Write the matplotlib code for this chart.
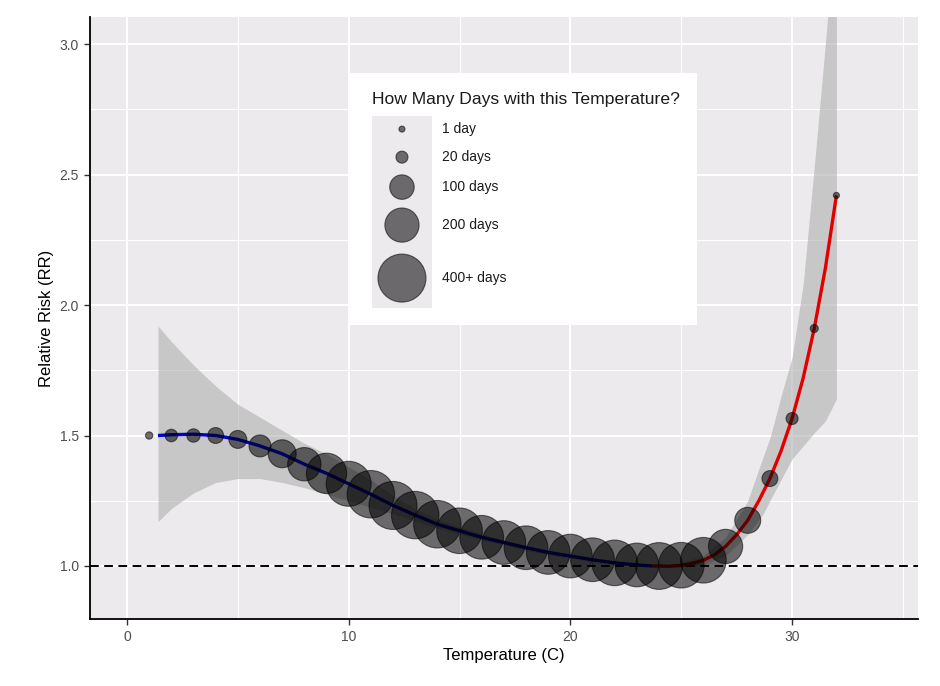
import matplotlib
matplotlib.use("Agg")
from matplotlib import pyplot as plt
from matplotlib.patches import Rectangle
import numpy as np

plt.rcParams['font.family'] = ['Liberation Sans', 'DejaVu Sans']

# points: temperature, relative risk, number of days
temp = [1, 2, 3, 4, 5, 6, 7, 8, 9, 10, 11, 12, 13, 14, 15, 16,
        17, 18, 19, 20, 21, 22, 23, 24, 25, 26, 27, 28, 29, 30, 31, 32]
rr = [1.50, 1.50, 1.50, 1.50, 1.485, 1.46, 1.43, 1.39, 1.355, 1.315, 1.275, 1.232,
      1.195, 1.16, 1.135, 1.11, 1.09, 1.07, 1.052, 1.038, 1.024, 1.012, 1.004,
      1.0, 1.003, 1.022, 1.075, 1.175, 1.335, 1.565, 1.91, 2.42]
days = [4, 22, 26, 39, 51, 79, 132, 190, 280, 350, 390, 433, 390, 390, 360, 330,
        330, 330, 330, 330, 330, 360, 330, 380, 360, 360, 200, 113, 39, 20, 6, 1]

# fitted curve, cold side (blue) and hot side (red)
cold_x = [1.4, 2, 3, 4, 5, 6, 7, 8, 9, 10, 11, 12, 13, 14, 15, 16, 17, 18, 19,
          20, 21, 22, 23, 23.7]
cold_y = [1.50, 1.503, 1.505, 1.50, 1.485, 1.46, 1.43, 1.39, 1.355, 1.315, 1.275,
          1.232, 1.195, 1.16, 1.135, 1.11, 1.09, 1.07, 1.052, 1.038, 1.024,
          1.012, 1.004, 1.0]
hot_x = [23.7, 24, 24.5, 25, 25.5, 26, 26.5, 27, 27.5, 28, 28.5, 29, 29.5, 30,
         30.5, 31, 31.5, 32]
hot_y = [1.0, 1.0, 0.999, 1.003, 1.01, 1.022, 1.043, 1.075, 1.12, 1.175, 1.25,
         1.335, 1.44, 1.565, 1.72, 1.91, 2.14, 2.42]

# confidence band
band_x = [1.4, 2, 3, 4, 5, 6, 7, 8, 9, 10, 11, 12, 13, 14, 15, 16, 17, 18, 19,
          20, 21, 22, 23, 24, 25, 26, 27, 28, 28.7, 29, 29.5, 30, 30.5, 31, 31.5, 32]
band_lo = [1.17, 1.22, 1.28, 1.32, 1.335, 1.335, 1.32, 1.30, 1.275, 1.25, 1.225,
           1.20, 1.172, 1.145, 1.122, 1.10, 1.08, 1.06, 1.043, 1.03, 1.017, 1.007,
           1.0, 0.997, 0.995, 1.005, 1.04, 1.12, 1.20, 1.25, 1.33, 1.41, 1.46,
           1.51, 1.555, 1.64]
band_hi = [1.92, 1.86, 1.77, 1.69, 1.62, 1.57, 1.52, 1.47, 1.43, 1.38, 1.33,
           1.27, 1.22, 1.18, 1.15, 1.124, 1.10, 1.08, 1.061, 1.046, 1.031, 1.017,
           1.008, 1.003, 1.012, 1.04, 1.11, 1.25, 1.42, 1.49, 1.65, 1.80, 2.08,
           2.53, 3.0, 3.5]

legend_days = [1, 20, 100, 200, 400]
legend_labels = ['1 day', '20 days', '100 days', '200 days', '400+ days']


def size_of(d):
    return 16 + 2.95 * np.minimum(np.asarray(d, dtype=float), 400)


fig = plt.figure(figsize=(9.4, 6.86), dpi=100)
ax = fig.add_axes([0.0957, 0.0977, 0.8809, 0.8773])
ax.set_facecolor('#edeaed')

ax.fill_between(band_x, band_lo, band_hi, color='#b0b0b0', alpha=0.6,
                linewidth=0, zorder=2)
ax.axhline(1.0, color='black', linestyle=(0, (4.5, 2.8)), linewidth=1.4, zorder=3)
ax.plot(cold_x, cold_y, color='#0000d0', linewidth=2.4, zorder=4,
        solid_capstyle='butt')
ax.plot(hot_x, hot_y, color='#e00000', linewidth=2.4, zorder=4,
        solid_capstyle='butt')
ax.scatter(temp, rr, s=size_of(days), color='black', alpha=0.55,
           linewidths=0.8, zorder=5)

ax.set_xlim(-1.67, 35.68)
ax.set_ylim(0.797, 3.103)
ax.set_xticks([0, 10, 20, 30])
ax.set_xticks([5, 15, 25, 35], minor=True)
ax.set_yticks([1.0, 1.5, 2.0, 2.5, 3.0])
ax.set_yticks([1.25, 1.75, 2.25, 2.75], minor=True)
ax.grid(which='major', color='white', linewidth=1.5, zorder=0)
ax.grid(which='minor', color='white', linewidth=0.8, zorder=0)
ax.set_axisbelow(True)
ax.tick_params(which='major', length=4, width=1, color='#333333',
               labelcolor='#4d4d4d', labelsize=10, pad=4)
ax.tick_params(which='minor', length=0)
ax.spines['top'].set_visible(False)
ax.spines['right'].set_visible(False)
ax.spines['left'].set_linewidth(1.3)
ax.spines['bottom'].set_linewidth(1.3)
ax.set_xlabel('Temperature (C)', fontsize=12, labelpad=3)
ax.set_ylabel('Relative Risk (RR)', fontsize=12, labelpad=4)

# legend drawn by hand
ax.add_patch(Rectangle((0.3128, 0.4884), 0.4203, 0.4186, transform=ax.transAxes,
                       facecolor='white', edgecolor='none', zorder=10))
ax.add_patch(Rectangle((0.3406, 0.5166), 0.0724, 0.3189, transform=ax.transAxes,
                       facecolor='#edeaed', edgecolor='none', zorder=11))
ax.text(0.3406, 0.8638, 'How Many Days with this Temperature?', transform=ax.transAxes,
        fontsize=12.6, va='center', ha='left', color='#1a1a1a', zorder=12)
key_y = [0.814, 0.7674, 0.7176, 0.6545, 0.5664]
ax.scatter([0.3768] * 5, key_y, s=size_of(legend_days), color='black', alpha=0.55,
           linewidths=0.8, transform=ax.transAxes, zorder=12, clip_on=False)
for ky, lab in zip(key_y, legend_labels):
    ax.text(0.4251, ky, lab, transform=ax.transAxes, fontsize=10, va='center',
            ha='left', color='#1a1a1a', zorder=12)

fig.savefig('out.png', dpi=100)
